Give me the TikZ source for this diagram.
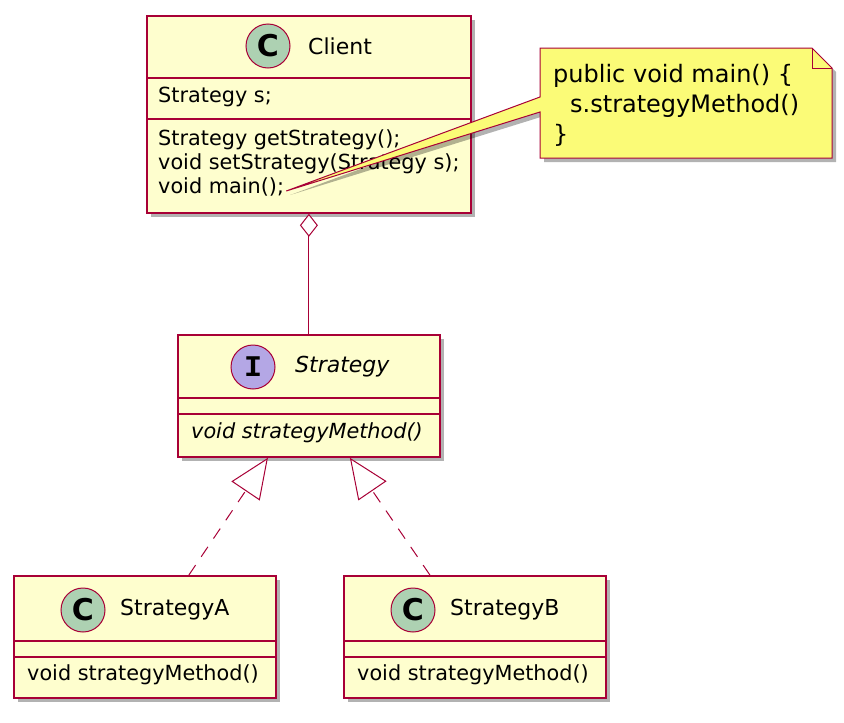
\documentclass[tikz,border=0pt]{standalone}
\usepackage{fontspec}
\setmainfont{DejaVu Sans}
\setmonofont{Liberation Mono}
\usetikzlibrary{arrows.meta,shadows}
\definecolor{umlred}{HTML}{A80036}
\definecolor{classfill}{HTML}{FEFECE}
\definecolor{cicon}{HTML}{ADD1B2}
\definecolor{iicon}{HTML}{B4A7E5}
\definecolor{notefill}{HTML}{FBFB77}
\tikzstyle{umlshadow} = [drop shadow={shadow xshift=4pt, shadow yshift=-4pt, fill=black, opacity=.3}]
\tikzstyle{classbox} = [rectangle, draw=umlred, fill=classfill, line width=1.8pt,
anchor=north west, inner sep=0pt, umlshadow]
\tikzstyle{divider} = [draw=umlred, line width=1.8pt]
\tikzstyle{icon} = [circle, draw=umlred, line width=1pt, minimum size=44pt, inner sep=0pt,
font=\fontsize{30}{30}\selectfont\bfseries]
\tikzstyle{title} = [anchor=west, inner sep=0pt, font=\fontsize{22}{26}\selectfont]
\tikzstyle{member} = [anchor=west, inner sep=0pt, text height=.75em, text depth=.2em,
font=\fontsize{20.8}{24}\selectfont]
\tikzstyle{line} = [draw=umlred, line width=1pt]
\tikzstyle{realize} = [line, dash pattern=on 12pt off 10pt,
-{Triangle[fill=white, length=40pt, width=34pt]}]
\tikzstyle{notebox} = [draw=umlred, fill=notefill, line width=1pt, umlshadow]
\tikzstyle{notetext} = [anchor=north west, inner sep=0pt, align=left,
font=\fontsize{24}{30}\selectfont]

\begin{document}
\begin{tikzpicture}[x=1pt, y=-1pt]
\useasboundingbox (0,0) rectangle (844,723);

% Client class
	\node [classbox, minimum width=324pt, minimum height=197pt] (client) at (146,15) {};
	\draw [divider] (client.west |- 0,78) -- (client.east |- 0,78);
	\draw [divider] (client.west |- 0,119) -- (client.east |- 0,119);
	\node [icon, fill=cicon] (clienticon) at (268,46) {C};
	\node [title] (clienttitle) at (308,46) {Client};
	\node [member] (clientattr) at (158,100) {Strategy s;};
	\node [member] (getm) at (158,143) {Strategy getStrategy();};
	\node [member] (setm) at (158,167) {void setStrategy(Strategy s);};
	\node [member] (mainm) at (158,191) {void main();};

% Strategy interface
	\node [classbox, minimum width=262pt, minimum height=122pt] (strategy) at (177,334) {};
	\draw [divider] (strategy.west |- 0,398) -- (strategy.east |- 0,398);
	\draw [divider] (strategy.west |- 0,414) -- (strategy.east |- 0,414);
	\node [icon, fill=iicon, font=\fontsize{30}{30}\selectfont\ttfamily\bfseries] (strategyicon) at (253,367) {I};
	\node [title, font=\fontsize{22}{26}\selectfont\itshape] (strategytitle) at (295,367) {Strategy};
	\node [member, font=\fontsize{20.8}{24}\selectfont\itshape] (strategym) at (191,436) {void strategyMethod()};

% Concrete strategies
	\node [classbox, minimum width=262pt, minimum height=122pt] (stratA) at (13,575) {};
	\draw [divider] (stratA.west |- 0,641) -- (stratA.east |- 0,641);
	\draw [divider] (stratA.west |- 0,657) -- (stratA.east |- 0,657);
	\node [icon, fill=cicon] (stratAicon) at (83,610) {C};
	\node [title] (stratAtitle) at (120,610) {StrategyA};
	\node [member] (stratAm) at (27,678) {void strategyMethod()};

	\node [classbox, minimum width=262pt, minimum height=122pt] (stratB) at (343,575) {};
	\draw [divider] (stratB.west |- 0,641) -- (stratB.east |- 0,641);
	\draw [divider] (stratB.west |- 0,657) -- (stratB.east |- 0,657);
	\node [icon, fill=cicon] (stratBicon) at (413,610) {C};
	\node [title] (stratBtitle) at (450,610) {StrategyB};
	\node [member] (stratBm) at (357,678) {void strategyMethod()};

% Relations
	\draw [line, {Diamond[fill=white, width=18pt, length=23pt]}-] (client.south) -- (strategy.north);
	\draw [realize] ([xshift=44pt]stratA.north) -- ([xshift=-41pt]strategy.south);
	\draw [realize] ([xshift=-45pt]stratB.north) -- ([xshift=41pt]strategy.south);

% Note
	\path [notebox] (540,48) -- (812,48) -- (832,68) -- (832,158) -- (540,158) -- (540,112)
		-- ([xshift=2pt]mainm.east) -- (540,97) -- cycle;
	\draw [line] (812,48) -- (812,68) -- (832,68);
	\node [notetext] (notetext) at (553,64) {public void main() \{\\\hspace*{17pt}s.strategyMethod()\\\}};

\end{tikzpicture}
\end{document}
